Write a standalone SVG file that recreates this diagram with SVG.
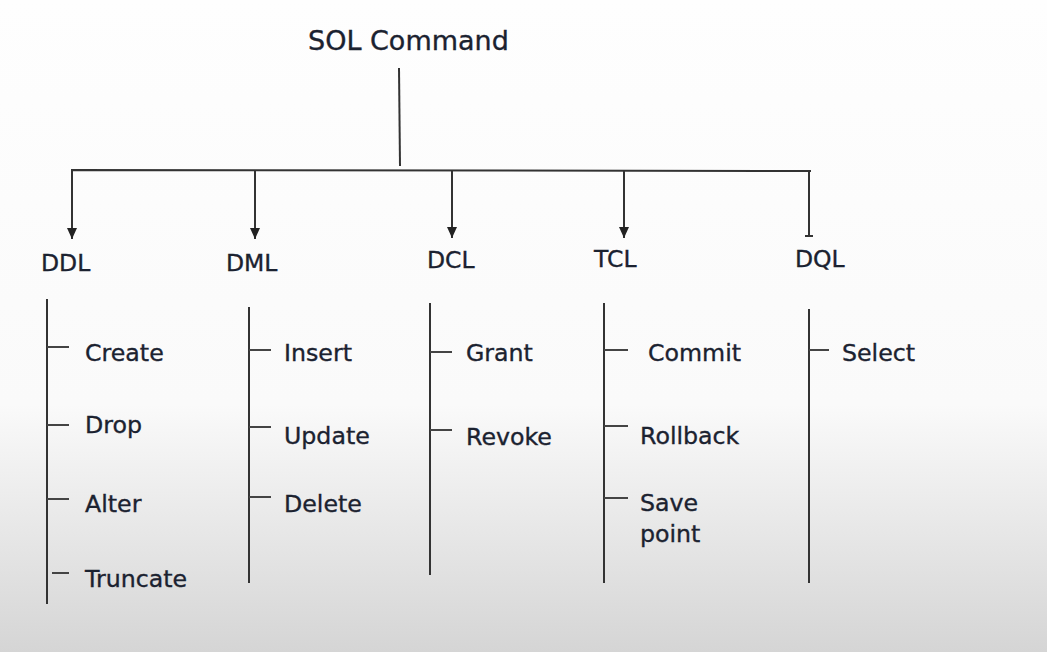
<svg xmlns="http://www.w3.org/2000/svg" width="1047" height="652" viewBox="0 0 1047 652">
<defs>
<linearGradient id="bg" x1="0" y1="0" x2="0" y2="1">
<stop offset="0" stop-color="#fefefe"/>
<stop offset="0.62" stop-color="#fafafa"/>
<stop offset="1" stop-color="#d5d5d5"/>
</linearGradient>
<marker id="arr" markerUnits="userSpaceOnUse" markerWidth="12" markerHeight="12" refX="11" refY="6" orient="auto" viewBox="0 0 12 12">
<path d="M0,1 L11,6 L0,11 Z" fill="#222"/>
</marker>
<style>
text{font-family:"DejaVu Sans","Verdana",sans-serif;fill:#1b2230;stroke:#1b2230;stroke-width:0.35;}
.t{font-size:27px;}
.h{font-size:23.5px;}
.i{font-size:23.7px;}
.ln{stroke:#333;stroke-width:2;fill:none;}
.tk{stroke:#444;stroke-width:2;fill:none;}
</style>
</defs>
<rect width="1047" height="652" fill="url(#bg)"/>

<g id="connectors">
<line class="ln" x1="399" y1="68" x2="400" y2="166"/>
<polyline class="ln" points="72,232 72,170 811,171"/>
<line class="ln" x1="255" y1="171" x2="255" y2="239" marker-end="url(#arr)"/>
<line class="ln" x1="72" y1="220" x2="72" y2="239" marker-end="url(#arr)"/>
<line class="ln" x1="452" y1="171" x2="452" y2="238" marker-end="url(#arr)"/>
<line class="ln" x1="624" y1="171" x2="624" y2="238" marker-end="url(#arr)"/>
<line class="ln" x1="809" y1="171" x2="809" y2="236"/>
<line class="ln" x1="805" y1="236" x2="813" y2="236" stroke-width="3"/>
</g>

<g id="root"><text class="t" x="308" y="50">SOL Command</text></g>

<g id="ddl">
<text class="h" x="41" y="271">DDL</text>
<line class="ln" x1="47" y1="299" x2="47" y2="604"/>
<line class="tk" x1="47" y1="347" x2="69" y2="347"/>
<line class="tk" x1="47" y1="425" x2="69" y2="425"/>
<line class="tk" x1="47" y1="499" x2="69" y2="499"/>
<line class="tk" x1="52" y1="573" x2="69" y2="573"/>
<text class="i" x="85" y="361">Create</text>
<text class="i" x="85" y="433">Drop</text>
<text class="i" x="85" y="512">Alter</text>
<text class="i" x="85" y="587">Truncate</text>
</g>

<g id="dml">
<text class="h" x="226" y="271">DML</text>
<line class="ln" x1="249" y1="307" x2="249" y2="583"/>
<line class="tk" x1="249" y1="350" x2="271" y2="350"/>
<line class="tk" x1="249" y1="427" x2="271" y2="427"/>
<line class="tk" x1="249" y1="497" x2="271" y2="497"/>
<text class="i" x="284" y="361">Insert</text>
<text class="i" x="284" y="444">Update</text>
<text class="i" x="284" y="512">Delete</text>
</g>

<g id="dcl">
<text class="h" x="427" y="268">DCL</text>
<line class="ln" x1="430" y1="303" x2="430" y2="575"/>
<line class="tk" x1="430" y1="352" x2="452" y2="352"/>
<line class="tk" x1="430" y1="430" x2="452" y2="430"/>
<text class="i" x="466" y="361">Grant</text>
<text class="i" x="466" y="445">Revoke</text>
</g>

<g id="tcl">
<text class="h" x="594" y="267">TCL</text>
<line class="ln" x1="604" y1="303" x2="604" y2="583"/>
<line class="tk" x1="604" y1="350" x2="628" y2="350"/>
<line class="tk" x1="604" y1="426" x2="628" y2="426"/>
<line class="tk" x1="604" y1="498" x2="628" y2="498"/>
<text class="i" x="648" y="361">Commit</text>
<text class="i" x="640" y="444">Rollback</text>
<text class="i" x="640" y="511">Save</text>
<text class="i" x="640" y="542">point</text>
</g>

<g id="dql">
<text class="h" x="795" y="267">DQL</text>
<line class="ln" x1="809" y1="309" x2="809" y2="583"/>
<line class="tk" x1="809" y1="350" x2="829" y2="350"/>
<text class="i" x="842" y="361">Select</text>
</g>
</svg>
